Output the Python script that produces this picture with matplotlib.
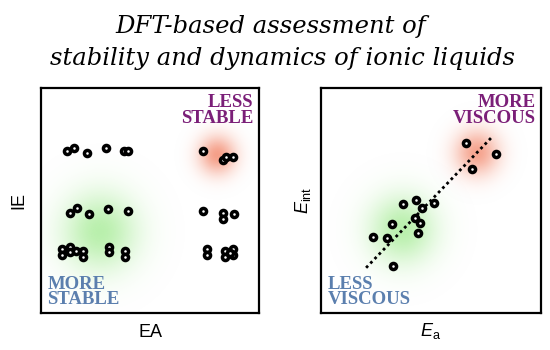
import numpy as np
import matplotlib
matplotlib.use("Agg")
import matplotlib.pyplot as plt
from matplotlib.colors import to_rgb

plt.rcParams['mathtext.fontset'] = 'custom'
plt.rcParams['mathtext.rm'] = 'Liberation Sans'
plt.rcParams['mathtext.it'] = 'Liberation Sans:italic'

# ---- data ----
title_lines = ["DFT-based assessment of", "stability and dynamics of ionic liquids"]

left_x = [1.18, 1.50, 2.09, 2.98, 3.82, 4.00,
          7.42, 8.33, 8.49, 8.82,
          1.33, 1.64, 2.22, 3.09, 4.00,
          7.42, 8.36, 8.36, 8.85,
          0.98, 0.98, 1.33, 1.33, 1.59, 1.94, 1.94, 3.13, 3.13, 3.85, 3.85,
          7.60, 7.60, 8.44, 8.44, 8.82, 8.82, 8.67]
left_y = [7.20, 7.32, 7.10, 7.32, 7.21, 7.21,
          7.20, 6.80, 6.95, 6.95,
          4.46, 4.68, 4.39, 4.61, 4.53,
          4.53, 4.44, 4.18, 4.39,
          2.83, 2.58, 2.93, 2.71, 2.76, 2.76, 2.50, 2.93, 2.71, 2.76, 2.50,
          2.84, 2.59, 2.76, 2.50, 2.83, 2.58, 2.67]

right_x = [6.59, 7.95, 6.85, 3.74, 4.32, 4.58, 5.15, 4.29, 4.50, 3.21, 4.42, 2.35, 2.99, 3.26]
right_y = [7.57, 7.07, 6.39, 4.84, 5.02, 4.65, 4.90, 4.21, 3.99, 3.96, 3.54, 3.36, 3.32, 2.09]

fit_x = [2.05, 7.76]
fit_y = [2.01, 7.81]

left_glows = [((2.7, 3.6), 1.2, "#a8ec98", 0.8), ((8.1, 7.0), 0.6, "#f59a82", 0.95)]
right_glows = [((3.7, 3.7), 1.05, "#a8ec98", 0.8), ((7.1, 7.1), 0.7, "#f59a82", 0.9)]

purple = "#7b1f78"
blue = "#5b7fae"

fig = plt.figure(figsize=(5.5, 3.5), dpi=100)
W, H = 550, 350

def add_ax(x0, x1, y0, y1):
    return fig.add_axes([x0 / W, 1 - y1 / H, (x1 - x0) / W, (y1 - y0) / H])

axL = add_ax(41, 259, 88, 313)
axR = add_ax(321, 541, 88, 313)

def glow(ax, glows):
    xs = np.linspace(0, 10, 300)
    ys = np.linspace(0, 10, 300)
    X, Y = np.meshgrid(xs, ys)
    for (cx, cy), s, col, amax in glows:
        a = np.exp(-(((X - cx) ** 2 + (Y - cy) ** 2) / (2 * s ** 2)))
        img = np.zeros((300, 300, 4))
        img[..., :3] = to_rgb(col)
        img[..., 3] = a * amax
        ax.imshow(img, extent=(0, 10, 0, 10), origin='lower', zorder=1,
                  interpolation='bilinear', aspect='auto')

for ax, glows in ((axL, left_glows), (axR, right_glows)):
    glow(ax, glows)
    ax.set_xlim(0, 10)
    ax.set_ylim(0, 10)
    ax.set_xticks([])
    ax.set_yticks([])
    for sp in ax.spines.values():
        sp.set_linewidth(1.6)
        sp.set_color('black')

mk = dict(linestyle='none', marker='o', ms=4.4, mew=2.5, mec='black', mfc='white', zorder=3)
axL.plot(left_x, left_y, **mk)
axR.plot(fit_x, fit_y, linestyle=(0, (1, 1.2)), lw=2.0, color='black', zorder=2)
axR.plot(right_x, right_y, **mk)

lab = dict(fontfamily='Liberation Serif', fontweight='bold', fontsize=13.5, linespacing=0.92)
axL.text(0.975, 0.975, "LESS\nSTABLE", transform=axL.transAxes, ha='right', va='top', color=purple, **lab)
axL.text(0.03, 0.02, "MORE\nSTABLE", transform=axL.transAxes, ha='left', va='bottom', color=blue, **lab)
axR.text(0.975, 0.975, "MORE\nVISCOUS", transform=axR.transAxes, ha='right', va='top', color=purple, **lab)
axR.text(0.03, 0.02, "LESS\nVISCOUS", transform=axR.transAxes, ha='left', va='bottom', color=blue, **lab)

axlab = dict(fontfamily='Liberation Sans', fontsize=13)
axL.set_xlabel("EA", labelpad=8, **axlab)
axL.set_ylabel("IE", labelpad=10, **axlab)
axR.set_xlabel(r"$E_{\mathrm{a}}$", labelpad=6, **axlab)
axR.set_ylabel(r"$E_{\mathrm{int}}$", labelpad=6, **axlab)

tt = dict(fontfamily='DejaVu Serif', style='italic', fontsize=17.5, ha='center', va='baseline')
fig.text(271 / W, 1 - 33 / H, title_lines[0], **tt)
fig.text(282 / W, 1 - 65 / H, title_lines[1], **tt)

fig.savefig("out.png", dpi=100)
